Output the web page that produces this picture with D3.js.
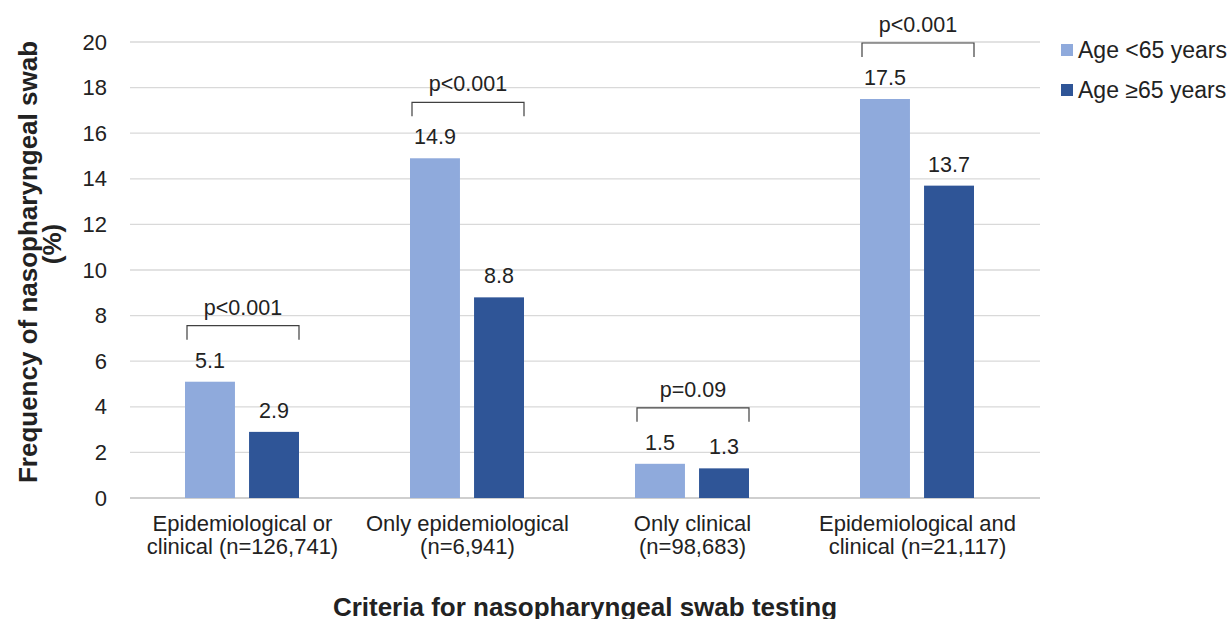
<!DOCTYPE html>
<html>
<head>
<meta charset="utf-8">
<script src="https://cdn.jsdelivr.net/npm/d3@7"></script>
<style>
  body { margin: 0; background: #fff; }
  svg text { font-family: "Liberation Sans", Arial, sans-serif; fill: #222; }
</style>
</head>
<body>
<svg width="1231" height="619"></svg>
<script>
// data
var categories = [
    ["Epidemiological or", "clinical (n=126,741)"],
    ["Only epidemiological", "(n=6,941)"],
    ["Only clinical", "(n=98,683)"],
    ["Epidemiological and", "clinical (n=21,117)"]
];
var seriesNames = ["Age <65 years", "Age \u226565 years"];
var under65 = [5.1, 14.9, 1.5, 17.5];
var over65 = [2.9, 8.8, 1.3, 13.7];
var pValues = ["p<0.001", "p<0.001", "p=0.09", "p<0.001"];
var yTicks = [0, 2, 4, 6, 8, 10, 12, 14, 16, 18, 20];
var colors = ["#8faadc", "#2f5597"];

var svg = d3.select("svg");
var plotLeft = 130, plotRight = 1030, plotTop = 42, plotBottom = 498;

var x0 = d3.scaleBand().domain(d3.range(categories.length)).range([plotLeft, plotRight]);
var x1 = d3.scaleBand().domain([0, 1]).range([55, 169]).paddingInner(0.22);
var y = d3.scaleLinear().domain([0, 20]).range([plotBottom, plotTop]);

// gridlines
svg.append("g")
    .selectAll("line")
    .data(yTicks.filter(function(d) { return d > 0; }))
    .join("line")
    .attr("x1", plotLeft).attr("x2", 1040)
    .attr("y1", function(d) { return y(d); })
    .attr("y2", function(d) { return y(d); })
    .attr("stroke", "#d9d9d9")
    .attr("stroke-width", 1.3);

// y axis
var yAxis = svg.append("g")
    .attr("transform", "translate(" + plotLeft + ",0)")
    .call(d3.axisLeft(y).tickValues(yTicks).tickSize(0).tickPadding(23));
yAxis.select(".domain").remove();
yAxis.selectAll("text")
    .style("font-size", "22px")
    .style("font-family", "Liberation Sans, Arial, sans-serif")
    .attr("fill", "#222");

// x axis line
svg.append("line")
    .attr("x1", plotLeft).attr("x2", 1040)
    .attr("y1", plotBottom).attr("y2", plotBottom)
    .attr("stroke", "#bfbfbf").attr("stroke-width", 1.3);

// bars
var groups = svg.append("g").selectAll("g")
    .data(categories.map(function(c, i) { return { i: i, vals: [under65[i], over65[i]] }; }))
    .join("g")
    .attr("transform", function(d) { return "translate(" + x0(d.i) + ",0)"; });

groups.selectAll("rect")
    .data(function(d) { return d.vals; })
    .join("rect")
    .attr("x", function(d, j) { return x1(j); })
    .attr("width", x1.bandwidth())
    .attr("y", function(d) { return y(d); })
    .attr("height", function(d) { return y(0) - y(d); })
    .attr("fill", function(d, j) { return colors[j]; });

groups.selectAll("text.val")
    .data(function(d) { return d.vals; })
    .join("text")
    .attr("class", "val")
    .attr("x", function(d, j) { return x1(j) + x1.bandwidth() / 2; })
    .attr("y", function(d) { return y(d) - 14; })
    .attr("text-anchor", "middle")
    .style("font-size", "21.5px")
    .text(function(d) { return d.toFixed(1); });

// significance brackets
groups.each(function(d) {
    var g = d3.select(this);
    var by = y(d3.max(d.vals)) - 56;
    var xa = x1(0) + 2, xb = x1(1) + x1.bandwidth();
    g.append("path")
        .attr("d", "M" + xa + "," + (by + 14) + "V" + by + "H" + xb + "V" + (by + 14))
        .attr("fill", "none")
        .attr("stroke", "#404040")
        .attr("stroke-width", 1.2);
    g.append("text")
        .attr("x", (xa + xb) / 2)
        .attr("y", by - 11)
        .attr("text-anchor", "middle")
        .style("font-size", "21.5px")
        .text(pValues[d.i]);
});

// category labels
var catLabels = svg.append("g").selectAll("text")
    .data(categories)
    .join("text")
    .attr("x", function(d, i) { return x0(i) + x0.bandwidth() / 2; })
    .attr("y", 531)
    .attr("text-anchor", "middle")
    .style("font-size", "22px");
catLabels.selectAll("tspan")
    .data(function(d) { return d; })
    .join("tspan")
    .attr("x", function() { return d3.select(this.parentNode).attr("x"); })
    .attr("dy", function(d, k) { return k === 0 ? 0 : 23; })
    .text(function(d) { return d; });

// axis titles
svg.append("text")
    .attr("x", 585).attr("y", 616)
    .attr("text-anchor", "middle")
    .style("font-size", "26px").style("font-weight", "bold")
    .text("Criteria for nasopharyngeal swab testing");

svg.append("text")
    .attr("transform", "translate(37,262) rotate(-90)")
    .attr("text-anchor", "middle")
    .style("font-size", "26px").style("font-weight", "bold")
    .text("Frequency of nasopharyngeal swab");
svg.append("text")
    .attr("transform", "translate(61,244) rotate(-90)")
    .attr("text-anchor", "middle")
    .style("font-size", "26px").style("font-weight", "bold")
    .text("(%)");

// legend
var legend = svg.append("g").selectAll("g")
    .data(seriesNames)
    .join("g")
    .attr("transform", function(d, i) { return "translate(1061," + (44 + i * 40) + ")"; });
legend.append("rect")
    .attr("width", 12).attr("height", 12)
    .attr("fill", function(d, i) { return colors[i]; });
legend.append("text")
    .attr("x", 17).attr("y", 14)
    .style("font-size", "23px")
    .text(function(d) { return d; });
</script>
</body>
</html>
